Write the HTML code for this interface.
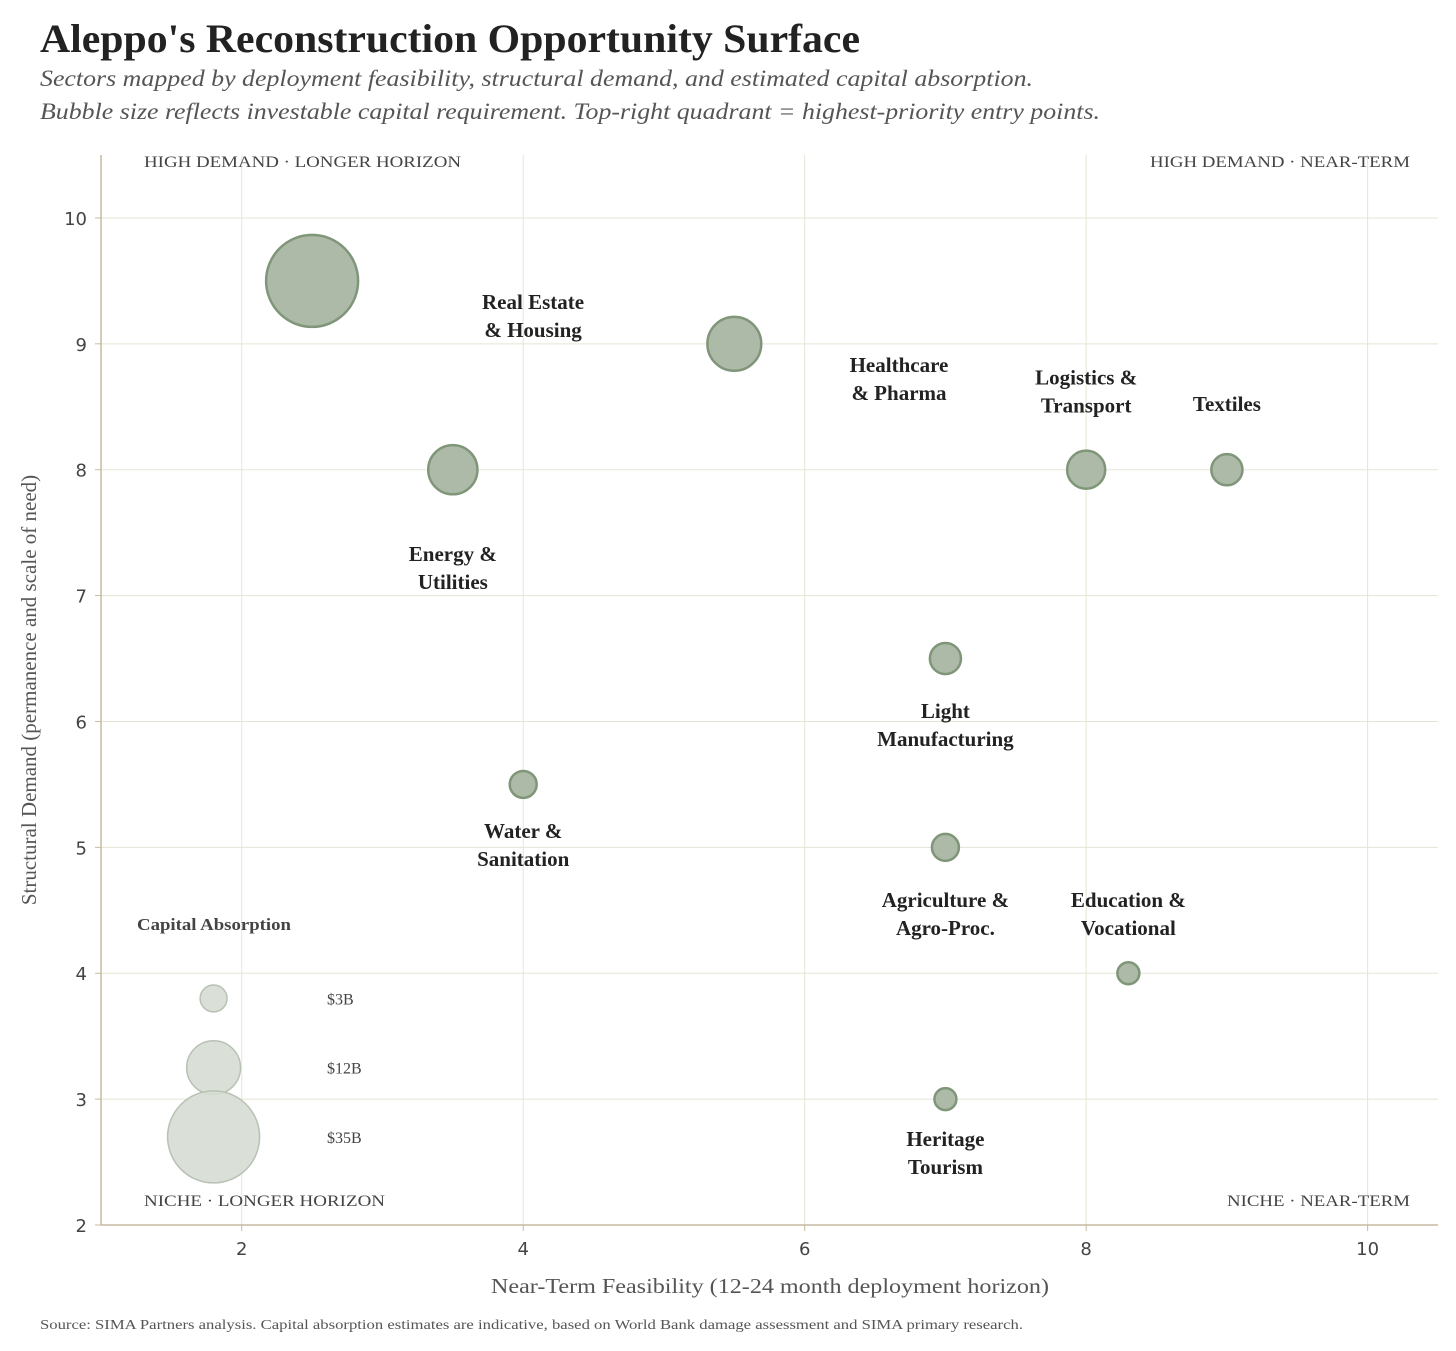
<!DOCTYPE html>
<html><head><meta charset="utf-8"><style>
body{margin:0;background:#fff;width:1456px;height:1351px;overflow:hidden}
svg{display:block}
.serif{font-family:"Liberation Serif",serif}
.sans{font-family:"DejaVu Sans","Liberation Sans",sans-serif}
</style></head><body>
<svg id="chart" width="1456" height="1351">
<text x="40" y="52" class="serif" font-size="40" font-weight="bold" fill="#222" textLength="820" lengthAdjust="spacingAndGlyphs">Aleppo's Reconstruction Opportunity Surface</text>
<text x="40" y="86" class="serif" font-size="23" font-style="italic" fill="#555" textLength="993" lengthAdjust="spacingAndGlyphs">Sectors mapped by deployment feasibility, structural demand, and estimated capital absorption.</text>
<text x="40" y="119" class="serif" font-size="23" font-style="italic" fill="#555" textLength="1060" lengthAdjust="spacingAndGlyphs">Bubble size reflects investable capital requirement. Top-right quadrant = highest-priority entry points.</text>
<g id="grid"></g><g id="axes"></g><g id="marks"></g><g id="labels"></g>
<text x="144" y="167" class="serif" font-size="16" fill="#444" textLength="317" lengthAdjust="spacingAndGlyphs">HIGH DEMAND · LONGER HORIZON</text>
<text x="1150" y="167" class="serif" font-size="16" fill="#444" textLength="260" lengthAdjust="spacingAndGlyphs">HIGH DEMAND · NEAR-TERM</text>
<text x="144" y="1206" class="serif" font-size="16" fill="#444" textLength="241" lengthAdjust="spacingAndGlyphs">NICHE · LONGER HORIZON</text>
<text x="1227" y="1206" class="serif" font-size="16" fill="#444" textLength="183" lengthAdjust="spacingAndGlyphs">NICHE · NEAR-TERM</text>
<text x="137" y="930" class="serif" font-size="17" font-weight="bold" fill="#444" textLength="154" lengthAdjust="spacingAndGlyphs">Capital Absorption</text>
<text x="491" y="1293" class="serif" font-size="21" fill="#555" textLength="558" lengthAdjust="spacingAndGlyphs">Near-Term Feasibility (12-24 month deployment horizon)</text>
<text transform="translate(36,690) rotate(-90)" text-anchor="middle" class="serif" font-size="21" fill="#555">Structural Demand (permanence and scale of need)</text>
<text x="40" y="1329" class="serif" font-size="14" fill="#555" textLength="983" lengthAdjust="spacingAndGlyphs">Source: SIMA Partners analysis. Capital absorption estimates are indicative, based on World Bank damage assessment and SIMA primary research.</text>
</svg>
<script>
const sectors=["Real Estate & Housing","Healthcare & Pharma","Energy & Utilities","Logistics & Transport","Textiles","Light Manufacturing","Water & Sanitation","Agriculture & Agro-Proc.","Education & Vocational","Heritage Tourism"];
const feasibility=[2.5,5.5,3.5,8,9,7,4,7,8.3,7];
const demand=[9.5,9,8,8,8,6.5,5.5,5,4,3];
const capital=[35,12,10,6,4,4,3,3,2,2];
const labelLines=[["Real Estate","& Housing"],["Healthcare","& Pharma"],["Energy &","Utilities"],["Logistics &","Transport"],["Textiles"],["Light","Manufacturing"],["Water &","Sanitation"],["Agriculture &","Agro-Proc."],["Education &","Vocational"],["Heritage","Tourism"]];
const labelX=[4.07,6.67,3.5,8,9,7,4,7,8.3,7];
const labelY=[9.22,8.72,7.22,8.62,8.52,5.97,5.02,4.47,4.47,2.57];
const legendValues=[3,12,35];
const legendLabels=["$3B","$12B","$35B"];
const legendY=[3.8,3.25,2.7];
const xTicks=[2,4,6,8,10];
const yTicks=[2,3,4,5,6,7,8,9,10];
const X0=101,X1=1438,Y0=1225,Y1=155,xmin=1,xmax=10.5,ymin=2,ymax=10.5;
const sx=v=>X0+(v-xmin)/(xmax-xmin)*(X1-X0);
const sy=v=>Y0-(v-ymin)/(ymax-ymin)*(Y0-Y1);
const sr=c=>46*Math.sqrt(c/35);
const NS="http://www.w3.org/2000/svg";
function mk(tag,attrs,parent){const e=document.createElementNS(NS,tag);for(const k in attrs)e.setAttribute(k,attrs[k]);document.getElementById(parent).appendChild(e);return e;}
xTicks.forEach(t=>{
 const l=mk("line",{x1:sx(t),x2:sx(t),y1:Y1,y2:Y0,stroke:"#e5e5d5","stroke-width":1},"grid");
 
 
 const tk=mk("line",{x1:sx(t),x2:sx(t),y1:Y0,y2:Y0+6,stroke:"#c8b9a0"},"axes");
 
 
 const tx=mk("text",{x:sx(t),y:Y0+30,"text-anchor":"middle",class:"sans","font-size":18,fill:"#444"},"axes");
 tx.textContent=t;
 
 
});
yTicks.forEach(t=>{
 const l=mk("line",{x1:X0,x2:X1,y1:sy(t),y2:sy(t),stroke:"#e5e5d5","stroke-width":1},"grid");
 
 
 const tk=mk("line",{x1:X0-6,x2:X0,y1:sy(t),y2:sy(t),stroke:"#c8b9a0"},"axes");
 
 
 const tx=mk("text",{x:X0-14,y:sy(t)+7,"text-anchor":"end",class:"sans","font-size":18,fill:"#444"},"axes");
 tx.textContent=t;
 
 
});
const xa=mk("line",{x1:X0,x2:X1,y1:Y0,y2:Y0,stroke:"#c8b9a0","stroke-width":1.5},"axes");


const ya=mk("line",{x1:X0,x2:X0,y1:Y1,y2:Y0,stroke:"#c8b9a0","stroke-width":1.5},"axes");


sectors.forEach((s,i)=>{
 const c=mk("circle",{cx:sx(feasibility[i]),cy:sy(demand[i]),r:sr(capital[i]),fill:"#a9b6a2",stroke:"#7f9679","stroke-width":2.5,"fill-opacity":0.95},"marks");
 
 
 const n=labelLines[i].length;
 labelLines[i].forEach((ln,j)=>{
  const t=mk("text",{x:sx(labelX[i]),y:sy(labelY[i])+(j-(n-1)/2)*28+7,"text-anchor":"middle",class:"serif","font-size":21,"font-weight":"bold",fill:"#222"},"labels");
  t.textContent=ln;
  
  
 });
});
legendValues.forEach((v,i)=>{
 const c=mk("circle",{cx:sx(1.8),cy:sy(legendY[i]),r:sr(v),fill:"#d6ddd4",stroke:"#b7c2b3","stroke-width":1.5,"fill-opacity":0.9},"marks");
 
 
 const t=mk("text",{x:327,y:sy(legendY[i])+6,class:"serif","font-size":16,fill:"#444"},"labels");
 t.textContent=legendLabels[i];
 
 
});
</script>
</body></html>
